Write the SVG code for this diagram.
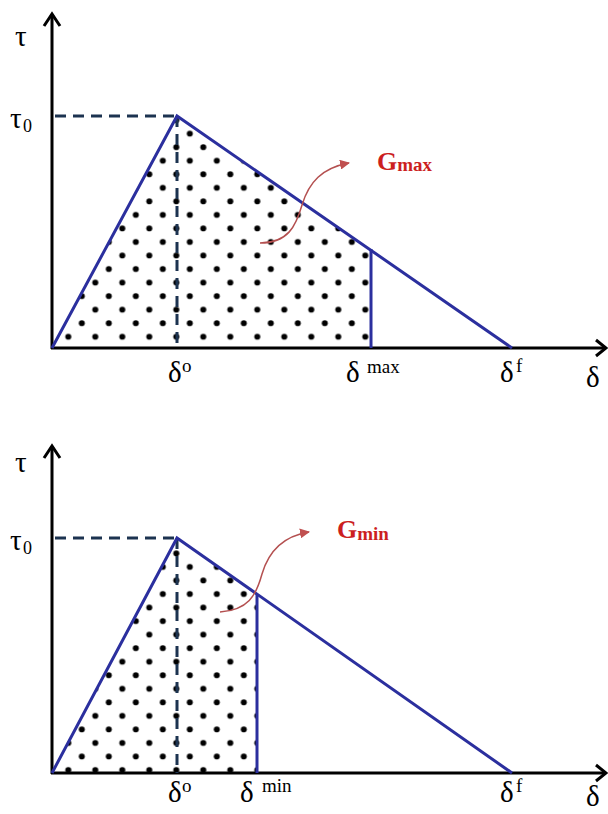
<svg xmlns="http://www.w3.org/2000/svg" width="608" height="814" viewBox="0 0 608 814">
<style>
.axis{stroke:#000;stroke-width:3;fill:none}
.ahead{stroke:#000;stroke-width:3;fill:none;stroke-linejoin:miter}
.curve{stroke:#2b2f9e;stroke-width:3;fill:none;stroke-linejoin:miter}
.dash{stroke:#1c3350;stroke-width:3;fill:none;stroke-dasharray:11 7}
.gr{font-family:"Liberation Serif","Times New Roman",serif;fill:#000}
.big{font-size:29px}
.sup{font-size:19px}
.small{font-size:18px}
.red{font-family:"Liberation Serif","Times New Roman",serif;font-weight:bold;fill:#cc1f1f}
.arr{stroke:#b45050;stroke-width:1.5;fill:none}
</style>
<defs>
<pattern id="dots" patternUnits="userSpaceOnUse" x="61.55" y="329.7" width="27" height="27.08">
<circle cx="6.75" cy="7" r="3" fill="#000"/>
<circle cx="20.25" cy="20.54" r="3" fill="#000"/>
</pattern>
<marker id="redhead" viewBox="0 0 10 10" refX="9" refY="5" markerWidth="10" markerHeight="10" markerUnits="userSpaceOnUse" orient="auto">
<path d="M0,0 L10,5 L0,10 z" fill="#c05050"/>
</marker>
</defs>

<g id="chart-top">
<polygon id="area-top" points="52,348 177,116 371,249 371,348" fill="url(#dots)" stroke="none"/>
<g id="axes-top">
<line class="axis" x1="52" y1="14" x2="52" y2="349"/>
<line class="axis" x1="51" y1="348" x2="605" y2="348"/>
<polyline class="ahead" points="44,26 52,14 60,26"/>
<polyline class="ahead" points="596,340 606,348 596,356"/>
</g>
<line class="dash" x1="55" y1="116" x2="177" y2="116"/>
<line class="dash" x1="177" y1="116" x2="177" y2="348"/>
<polyline class="curve" points="52,348 177,116 512,348"/>
<line class="curve" x1="371" y1="249" x2="371" y2="348"/>
<g id="labels-top">
<text class="gr big" x="15" y="46">τ</text>
<text class="gr big" x="10" y="128">τ</text>
<text class="gr small" x="23" y="132">0</text>
<text class="gr big" x="168" y="382">δ</text>
<text class="gr sup" x="182" y="372">o</text>
<text class="gr big" x="346" y="382">δ</text>
<text class="gr sup" x="367" y="373">max</text>
<text class="gr big" x="500" y="382">δ</text>
<text class="gr sup" x="516" y="372">f</text>
<text class="gr big" x="586" y="387">δ</text>
</g>
<g id="gmax">
<text class="red" x="377" y="170" font-size="26">G<tspan font-size="19" dy="1">max</tspan></text>
</g>
</g>

<g id="chart-bottom">
<polygon id="area-bottom" points="52,773 177,538 257,594 257,773" fill="url(#dots)" stroke="none"/>
<g id="axes-bottom">
<line class="axis" x1="52" y1="446" x2="52" y2="774"/>
<line class="axis" x1="51" y1="773" x2="605" y2="773"/>
<polyline class="ahead" points="44,458 52,446 60,458"/>
<polyline class="ahead" points="596,765 606,773 596,781"/>
</g>
<line class="dash" x1="55" y1="538" x2="177" y2="538"/>
<line class="dash" x1="177" y1="538" x2="177" y2="773"/>
<polyline class="curve" points="52,773 177,538 512,773"/>
<line class="curve" x1="257" y1="594" x2="257" y2="773"/>
<g id="labels-bottom">
<text class="gr big" x="15" y="472">τ</text>
<text class="gr big" x="10" y="550">τ</text>
<text class="gr small" x="23" y="554">0</text>
<text class="gr big" x="168" y="802">δ</text>
<text class="gr sup" x="182" y="792">o</text>
<text class="gr big" x="240" y="802">δ</text>
<text class="gr sup" x="262" y="792">min</text>
<text class="gr big" x="500" y="802">δ</text>
<text class="gr sup" x="516" y="792">f</text>
<text class="gr big" x="586" y="806">δ</text>
</g>
<g id="gmin">
<text class="red" x="337" y="538" font-size="26">G<tspan font-size="19" dy="2">min</tspan></text>
</g>
</g>

<g id="connectors">
<path class="arr" d="M260,243 C288,243 296,226 302,205 C309,182 322,168 349,163" marker-end="url(#redhead)"/>
<path class="arr" d="M220,612 C248,610 256,596 262,574 C269,550 284,536 309,532" marker-end="url(#redhead)"/>
</g>
</svg>
